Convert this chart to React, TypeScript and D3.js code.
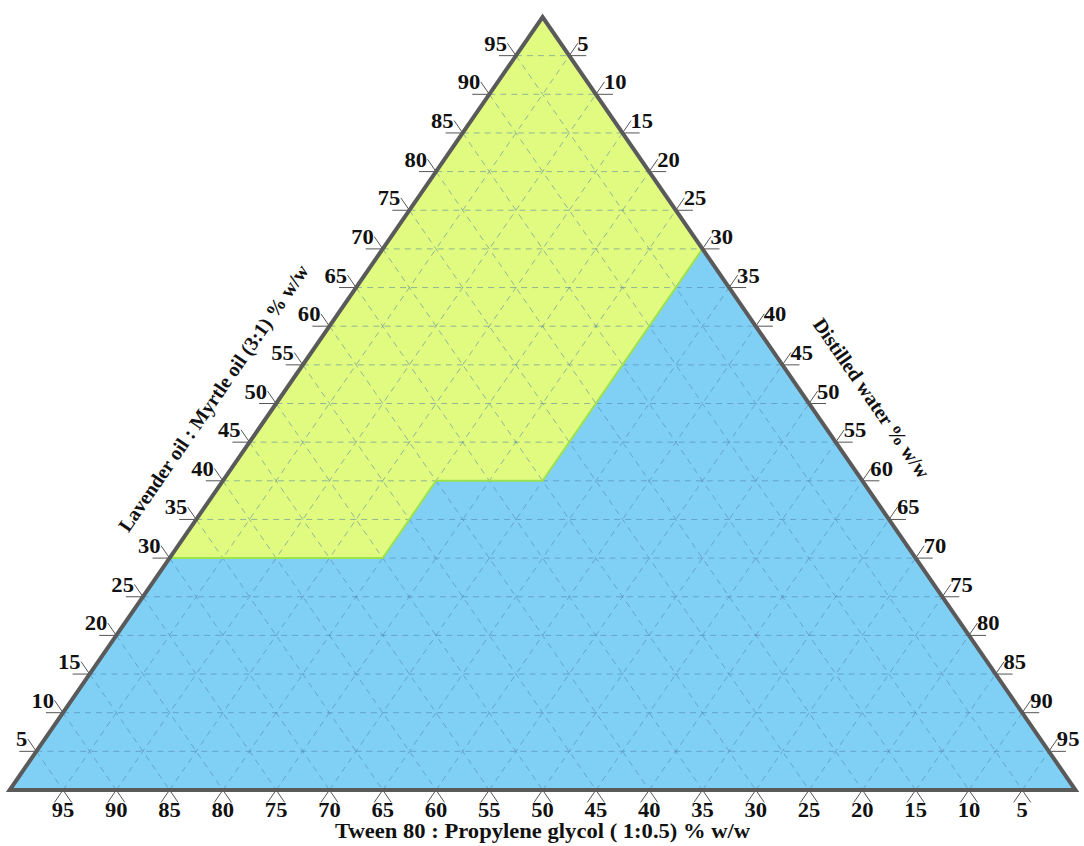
import React from "react";
import * as d3 from "d3";

// Percent values shown on each of the three axes
const tickValues = [5, 10, 15, 20, 25, 30, 35, 40, 45, 50, 55, 60, 65, 70, 75, 80, 85, 90, 95];
const gridValues = [5, 10, 15, 20, 25, 30, 35, 40, 45, 50, 55, 60, 65, 70, 75, 80, 85, 90, 95];

// Phase boundary between the upper (oil-rich) and lower regions, as (oil %, water %)
const boundaryOil = [30, 30, 40, 40, 70];
const boundaryWater = [0, 20, 20, 30, 30];

const axisTitles = {
  bottom: "Tween 80 : Propylene glycol ( 1:0.5) % w/w",
  left: "Lavender oil : Myrtle oil (3:1) % w/w",
  right: "Distilled water % w/w",
};

const W = 1084;
const H = 846;
const xLeft = 9.7;
const xRight = 1075.5;
const yBase = 790;
const yApex = 17;

const xScale = d3.scaleLinear().domain([0, 100]).range([xLeft, xRight]);
const yScale = d3.scaleLinear().domain([0, 100]).range([yBase, yApex]);

// ternary (oil, water) -> screen point; tween = 100 - oil - water
const pt = (oil: number, water: number): [number, number] => [
  xScale(water + oil / 2),
  yScale(oil),
];

const FONT = "'Liberation Serif', 'Times New Roman', serif";
const EXT = 1.6; // tick extension, in percent units
const SX = 1.13; // horizontal widening of the label glyphs

export default function App() {
  const line = d3.line<[number, number]>();
  const boundary = boundaryOil.map((o, i) => pt(o, boundaryWater[i]));
  const upper: [number, number][] = [...boundary, pt(100, 0)];
  const lower: [number, number][] = [pt(0, 0), ...boundary, pt(0, 100)];

  const grid: [number, number][][] = [];
  gridValues.forEach((v) => {
    grid.push([pt(v, 0), pt(v, 100 - v)]); // constant oil
    grid.push([pt(0, v), pt(100 - v, v)]); // constant water
    grid.push([pt(100 - v, 0), pt(0, 100 - v)]); // constant tween (tween = v)
  });

  const ticks: [number, number][][] = [];
  tickValues.forEach((v) => {
    // bottom: tween = v, oil = 0
    ticks.push([pt(0, 100 - v), pt(-EXT, 100 - v + EXT)]);
    ticks.push([pt(0, 100 - v), pt(-EXT, 100 - v)]);
    // left: oil = v, water = 0
    ticks.push([pt(v, 0), pt(v, -EXT)]);
    ticks.push([pt(v, 0), pt(v + EXT, -EXT)]);
    // right: water = v, tween = 0
    ticks.push([pt(100 - v, v), pt(100 - v, v + EXT)]);
    ticks.push([pt(100 - v, v), pt(100 - v + EXT, v)]);
  });

  const edgeAngle = (Math.atan2(yBase - yApex, (xRight - xLeft) / 2) * 180) / Math.PI;
  const at = (x: number, y: number) => `translate(${x},${y}) scale(${SX},1)`;

  return (
    <svg width={W} height={H} style={{ position: "absolute", left: 0, top: 0 }}>
      <rect width={W} height={H} fill="#ffffff" />
      <path d={line(lower)! + "Z"} fill="#80d0f6" />
      <path d={line(upper)! + "Z"} fill="#e0fb80" />
      <g stroke="#4f7fa6" strokeOpacity={0.55} strokeWidth={1} strokeDasharray="6,5" fill="none">
        {grid.map((g, i) => (
          <path key={i} d={line(g)!} />
        ))}
      </g>
      <path d={line(boundary)!} fill="none" stroke="#9be24c" strokeWidth={2} />
      <g stroke="#555" strokeWidth={1} fill="none">
        {ticks.map((t, i) => (
          <path key={i} d={line(t)!} />
        ))}
      </g>
      <path
        d={line([pt(0, 0), pt(100, 0), pt(0, 100)])! + "Z"}
        fill="none"
        stroke="#5a5a5a"
        strokeWidth={4}
        strokeLinejoin="miter"
      />
      <g fontFamily={FONT} fontWeight="bold" fontSize={20} fill="#111">
        {tickValues.map((v) => {
          const [bx, by] = pt(0, 100 - v);
          const [lx, ly] = pt(v, 0);
          const [rx, ry] = pt(100 - v, v);
          return (
            <g key={v}>
              <text transform={at(bx, by + 27)} textAnchor="middle">{v}</text>
              <text transform={at(lx - 9, ly - 5)} textAnchor="end">{v}</text>
              <text transform={at(rx + 8, ry - 5)} textAnchor="start">{v}</text>
            </g>
          );
        })}
        <text transform={at((xLeft + xRight) / 2, 838)} textAnchor="middle">
          {axisTitles.bottom}
        </text>
        <text transform={`translate(219,402) rotate(${-edgeAngle})`} textAnchor="middle">
          {axisTitles.left}
        </text>
        <text transform={`translate(866,402) rotate(${edgeAngle})`} textAnchor="middle">
          {axisTitles.right}
        </text>
      </g>
    </svg>
  );
}
